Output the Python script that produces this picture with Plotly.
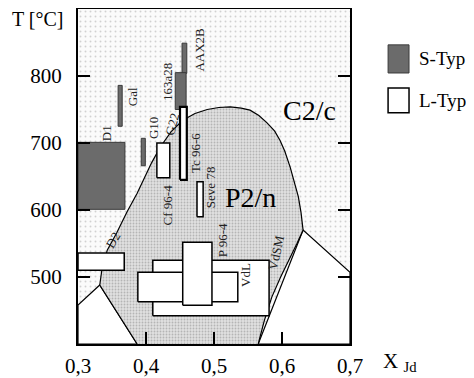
import plotly.graph_objects as go

# ---------------- data ----------------
# P2/n stability field boundary (X_Jd, T)
p2n_x = [0.387, 0.332, 0.335, 0.343, 0.357, 0.372, 0.387, 0.396, 0.408, 0.421, 0.437,
         0.454, 0.472, 0.490, 0.507, 0.524, 0.540, 0.553, 0.566, 0.578, 0.589, 0.597,
         0.604, 0.612, 0.619, 0.624, 0.628, 0.631, 0.622, 0.612, 0.598, 0.585, 0.574, 0.565]
p2n_t = [400, 488, 510, 540, 566, 597, 625, 645, 670, 694, 717,
         734, 744, 750, 753, 754, 752, 749, 741, 730, 718, 704,
         688, 664, 640, 620, 596, 570, 550, 530, 500, 470, 435, 400]

# two-phase (white) fields
left_x = [0.300, 0.300, 0.332, 0.387]
left_t = [400, 458, 488, 400]
right_x = [0.565, 0.631, 0.700, 0.700]
right_t = [400, 570, 507, 400]

# samples: S-Typ
s_names = ["AAX2B", "163a28", "D1", "Gal", "G10"]
s_x0 = [0.453, 0.443, 0.300, 0.359, 0.393]
s_x1 = [0.460, 0.459, 0.369, 0.365, 0.399]
s_t0 = [804, 750, 601, 725, 666]
s_t1 = [849, 805, 701, 786, 707]

# samples: L-Typ
l_names = ["VdL", "P 96-4b", "P 96-4", "G22", "Tc 96-6", "Seve 78", "D2"]
l_x0 = [0.410, 0.388, 0.454, 0.416, 0.450, 0.475, 0.300]
l_x1 = [0.581, 0.535, 0.497, 0.435, 0.460, 0.484, 0.368]
l_t0 = [442, 463, 458, 648, 645, 590, 510]
l_t1 = [525, 507, 552, 700, 754, 642, 536]

labels = ["D1", "Gal", "G10", "G22", "163a28", "AAX2B", "Tc 96-6", "Seve 78",
          "Cf 96-4", "P 96-4", "D2", "VdL", "VdSM"]
label_x = [0.343, 0.380, 0.410, 0.439, 0.431, 0.479, 0.472, 0.494,
           0.431, 0.512, 0.351, 0.547, 0.591]
label_t = [715, 769, 722, 727, 791, 839, 685, 634,
           607, 555, 555, 503, 537]
label_angle = [-90, -90, -90, -75, -90, -90, -90, -90, -90, -90, -60, -90, -78]

x_ticks = [0.3, 0.4, 0.5, 0.6, 0.7]
y_ticks = [500, 600, 700, 800]

FONT = "Liberation Serif, Times New Roman, DejaVu Serif, serif"

fig = go.Figure()

# C2/c field (whole plot background, light stipple)
fig.add_trace(go.Scatter(
    x=[0.3, 0.7, 0.7, 0.3, 0.3], y=[400, 400, 900, 900, 400],
    mode="lines", line=dict(width=0), fill="toself", fillcolor="white",
    fillpattern=dict(shape=".", fgcolor="#a8a8a8", bgcolor="#fbfbfb", size=5, solidity=0.12),
    hoverinfo="skip", showlegend=False))

# white fields
for xs, ts in [(left_x, left_t), (right_x, right_t)]:
    fig.add_trace(go.Scatter(
        x=xs + [xs[0]], y=ts + [ts[0]], mode="lines",
        line=dict(color="black", width=1.2), fill="toself", fillcolor="white",
        hoverinfo="skip", showlegend=False))

# P2/n field (denser stipple)
fig.add_trace(go.Scatter(
    x=p2n_x, y=p2n_t, mode="lines",
    line=dict(color="black", width=1.2),
    fill="toself", fillcolor="#d5d5d5",
    fillpattern=dict(shape=".", fgcolor="#8a8a8a", bgcolor="#e0e0e0", size=3, solidity=0.3),
    hoverinfo="skip", showlegend=False))


def add_rect(x0, x1, t0, t1, fill, lc, lw):
    fig.add_trace(go.Scatter(
        x=[x0, x1, x1, x0, x0], y=[t0, t0, t1, t1, t0], mode="lines",
        line=dict(color=lc, width=lw), fill="toself", fillcolor=fill,
        hoverinfo="skip", showlegend=False))


for i in range(len(s_names)):
    add_rect(s_x0[i], s_x1[i], s_t0[i], s_t1[i], "#6b6b6b", "#3a3a3a", 1)
for i in range(len(l_names)):
    w = 2.2 if l_names[i] == "Tc 96-6" else 1.5
    add_rect(l_x0[i], l_x1[i], l_t0[i], l_t1[i], "white", "black", w)

# legend boxes (paper coords, outside plot)
shapes = [
    dict(type="rect", xref="paper", yref="paper", x0=1.140, x1=1.217,
         y0=0.809, y1=0.893, fillcolor="#6b6b6b", line=dict(color="#3a3a3a", width=1)),
    dict(type="rect", xref="paper", yref="paper", x0=1.140, x1=1.217,
         y0=0.690, y1=0.764, fillcolor="white", line=dict(color="black", width=1.5)),
]

annotations = []
for i, lab in enumerate(labels):
    annotations.append(dict(x=label_x[i], y=label_t[i], xref="x", yref="y", text=lab,
                            textangle=label_angle[i], showarrow=False,
                            font=dict(family=FONT, size=13, color="#222")))
annotations += [
    dict(x=0.641, y=748, xref="x", yref="y", text="C2/c", showarrow=False,
         font=dict(family=FONT, size=28, color="black")),
    dict(x=0.554, y=619, xref="x", yref="y", text="P2/n", showarrow=False,
         font=dict(family=FONT, size=28, color="black")),
    dict(x=-0.25, y=0.969, xref="paper", yref="paper", text="T [°C]", showarrow=False,
         xanchor="left", yanchor="middle", font=dict(family=FONT, size=20, color="black")),
    dict(x=1.113, y=-0.054, xref="paper", yref="paper", text="X <sub>Jd</sub>",
         showarrow=False, xanchor="left", yanchor="middle",
         font=dict(family=FONT, size=21, color="black")),
    dict(x=1.248, y=0.851, xref="paper", yref="paper", text="S-Typ", showarrow=False,
         xanchor="left", yanchor="middle", font=dict(family=FONT, size=19, color="black")),
    dict(x=1.248, y=0.727, xref="paper", yref="paper", text="L-Typ", showarrow=False,
         xanchor="left", yanchor="middle", font=dict(family=FONT, size=19, color="black")),
]

# page body has an 8px margin: figure sized/offset so the plot lands where the reference has it
fig.update_layout(
    width=466, height=370,
    margin=dict(l=70, r=124, t=1, b=34, autoexpand=False),
    paper_bgcolor="white", plot_bgcolor="white",
    shapes=shapes, annotations=annotations,
    separators=",.",
    showlegend=False,
    font=dict(family=FONT, size=21, color="black"),
)
fig.update_xaxes(range=[0.3, 0.7], tickvals=x_ticks, tickformat=".1f",
                 ticks="inside", ticklen=12, tickwidth=1.5, tickcolor="black",
                 showline=True, linecolor="black", linewidth=2, mirror=True,
                 showgrid=False, zeroline=False, ticklabelstandoff=2, automargin=False,
                 tickfont=dict(family=FONT, size=21, color="black"))
fig.update_yaxes(range=[400, 900], tickvals=y_ticks,
                 ticks="inside", ticklen=12, tickwidth=1.5, tickcolor="black",
                 showline=True, linecolor="black", linewidth=2, mirror="ticks",
                 showgrid=False, zeroline=False, ticklabelstandoff=10, automargin=False,
                 tickfont=dict(family=FONT, size=21, color="black"))

fig.write_html("out.html")
